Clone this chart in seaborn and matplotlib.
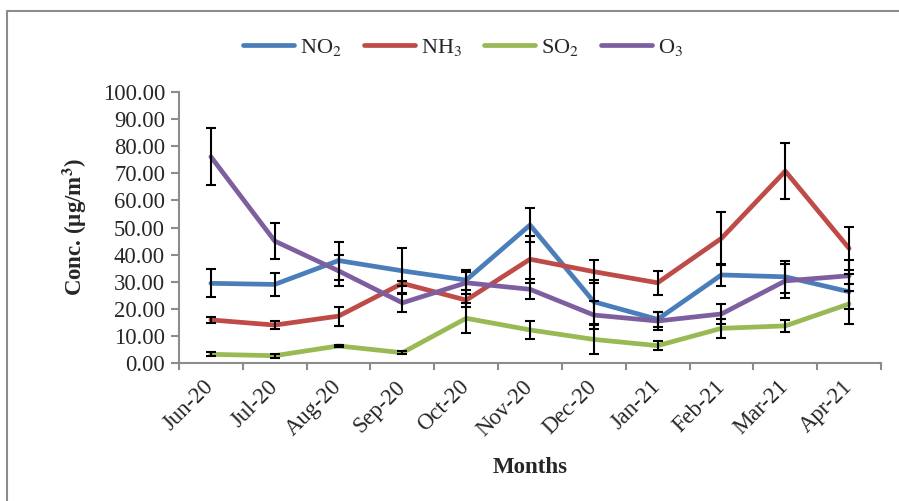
import numpy as np
import pandas as pd
import matplotlib
matplotlib.use("Agg")
import matplotlib.pyplot as plt
import seaborn as sns
from matplotlib.lines import Line2D
from matplotlib.transforms import ScaledTranslation

months = ['Jun-20', 'Jul-20', 'Aug-20', 'Sep-20', 'Oct-20', 'Nov-20',
          'Dec-20', 'Jan-21', 'Feb-21', 'Mar-21', 'Apr-21']
no2 = [29.4, 29.0, 37.8, 34.0, 30.6, 50.9, 22.6, 16.1, 32.5, 31.8, 26.3]
no2_err = [5.2, 4.2, 7.0, 8.3, 3.7, 6.2, 8.2, 2.8, 4.0, 5.8, 6.4]
nh3 = [15.9, 14.0, 17.3, 29.4, 23.2, 38.3, 33.7, 29.6, 46.0, 70.8, 42.3]
nh3_err = [1.0, 1.6, 3.5, 1.0, 2.4, 8.6, 4.3, 4.4, 9.8, 10.2, 8.0]
so2 = [3.2, 2.7, 6.3, 3.8, 16.5, 12.2, 8.7, 6.4, 12.8, 13.7, 21.8]
so2_err = [0.8, 0.8, 0.4, 0.5, 5.5, 3.3, 5.4, 1.6, 3.5, 2.3, 7.5]
o3 = [76.1, 45.0, 34.0, 22.2, 29.6, 27.2, 17.7, 15.5, 18.1, 30.3, 32.2]
o3_err = [10.5, 6.8, 5.7, 3.3, 4.0, 3.7, 5.0, 3.3, 3.6, 6.2, 5.8]

series_names = ['NO$_2$', 'NH$_3$', 'SO$_2$', 'O$_3$']
series_vals = [no2, nh3, so2, o3]
series_errs = [no2_err, nh3_err, so2_err, o3_err]
colors = ['#4A7EBB', '#BE4B48', '#98B954', '#7D5FA0']
y_ticks = [0, 10, 20, 30, 40, 50, 60, 70, 80, 90, 100]

sns.set_style('white')
plt.rcParams['font.family'] = ['Liberation Serif', 'DejaVu Serif']
plt.rcParams['mathtext.fontset'] = 'stix'

rows = []
for name, vals, errs in zip(series_names, series_vals, series_errs):
    for i, (m, v, e) in enumerate(zip(months, vals, errs)):
        rows.append({'x': i, 'Month': m, 'Pollutant': name, 'Conc': v, 'Err': e})
df = pd.DataFrame(rows)

fig = plt.figure(figsize=(8.99, 5.01), dpi=100)
ax = fig.add_axes([179/899, 1-363/501, (881-179)/899, (363-92)/501])

sns.lineplot(data=df, x='x', y='Conc', hue='Pollutant', palette=colors,
             linewidth=3.4, ax=ax, sort=False, legend=False,
             solid_capstyle='round', solid_joinstyle='round', zorder=2)

for name in series_names:
    sub = df[df['Pollutant'] == name]
    ax.errorbar(sub['x'], sub['Conc'], yerr=sub['Err'], fmt='none',
                ecolor='black', elinewidth=1.5, capsize=3.8, capthick=1.5, zorder=3)

ax.set_xlim(-0.5, len(months) - 0.5)
ax.set_ylim(0, 100)
ax.set_yticks(y_ticks)
ax.set_yticklabels([f'{v:.2f}' for v in y_ticks], fontsize=16.3)
ax.set_xticks(np.arange(len(months)))
ax.set_xticklabels(months, fontsize=16.3, rotation=45, ha='right',
                   va='center', rotation_mode='anchor')
shift = ScaledTranslation(4/100, 0, fig.dpi_scale_trans)
for lab in ax.get_xticklabels():
    lab.set_transform(lab.get_transform() + shift)
ax.set_xticks(np.arange(len(months) + 1) - 0.5, minor=True)
ax.tick_params(axis='x', which='major', length=0, pad=15)
ax.tick_params(axis='x', which='minor', length=5, width=1.5, color='#8c8c8c', direction='out', bottom=True)
ax.tick_params(axis='y', length=6, width=1.5, color='#8c8c8c', direction='out', left=True, pad=4)

for s in ['top', 'right']:
    ax.spines[s].set_visible(False)
for s in ['left', 'bottom']:
    ax.spines[s].set_color('#8c8c8c')
    ax.spines[s].set_linewidth(1.5)
ax.grid(False)

ax.set_ylabel('Conc. (µg/m$^\\mathbf{3}$)', fontsize=16.5, fontweight='bold', labelpad=10)
ax.set_xlabel('Months', fontsize=16.5, fontweight='bold', labelpad=12)

handles = [Line2D([0], [0], color=c, lw=3.4, solid_capstyle='round') for c in colors]
fig.legend(handles, series_names, loc='center', bbox_to_anchor=(463/899, 1-47/501),
           ncol=4, frameon=False, fontsize=16, handlelength=2.3,
           handletextpad=0.25, columnspacing=1.0)

ytop = 1 - 10.5/501
xl = 6.5/899
fig.add_artist(Line2D([xl, 1.05], [ytop, ytop], transform=fig.transFigure,
                      color='#8c8c8c', lw=1.5))
fig.add_artist(Line2D([xl, xl], [-0.05, ytop], transform=fig.transFigure,
                      color='#8c8c8c', lw=1.5))

fig.savefig('out.png', dpi=100)
